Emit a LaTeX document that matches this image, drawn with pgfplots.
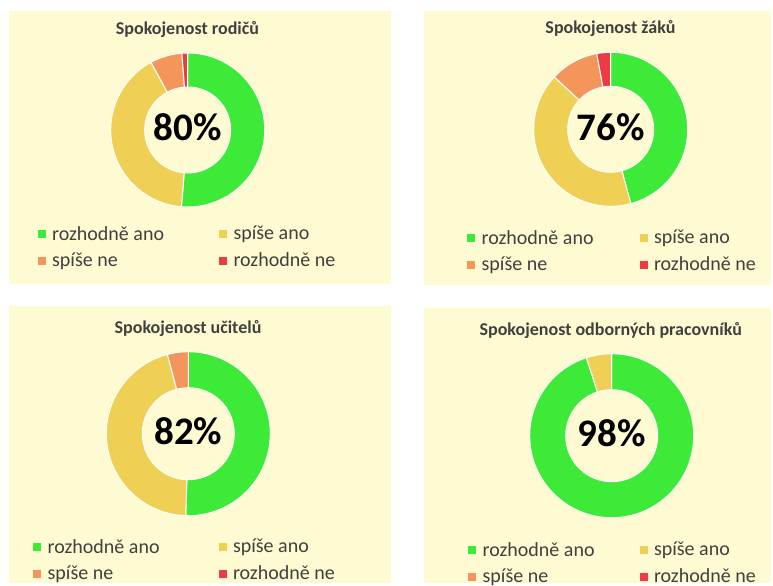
\documentclass[border=0pt]{standalone}
\usepackage{pgfplots}
\pgfplotsset{compat=1.18}
\usepackage{fontspec}
\setmainfont{Carlito}
\definecolor{bg}{HTML}{FEFBD2}
\definecolor{cg}{HTML}{3DEA37}
\definecolor{cy}{HTML}{EFD055}
\definecolor{co}{HTML}{F4955C}
\definecolor{cr}{HTML}{EE3A43}
\definecolor{txt}{HTML}{404040}
\pgfdeclareplotmark{nothing}{}
\tikzset{
  ttl/.style={font=\bfseries\fontsize{18}{20}\selectfont, text=txt, anchor=base},
  pct/.style={font=\bfseries\fontsize{39}{40}\selectfont, text=black, anchor=center}
}
\pgfplotsset{
  panel/.style={scale only axis, hide axis, clip=false, anchor=north west,
    xmin=0, ymin=0, legend columns=2, legend cell align=left},
  sq/.style={legend image code/.code={\fill[#1] (0pt,-3.5pt) rectangle (7pt,3.5pt); \path (12pt,0pt);}},
  ring/.style n args={3}{only marks, mark=nothing, scatter,
    visualization depends on={value \thisrow{a} \as \sa},
    visualization depends on={value \thisrow{b} \as \sb},
    scatter/@pre marker code/.code={%
      \path[fill=#1, draw=white, line width=1pt]
        (90-3.6*\sa:#2) arc[start angle=90-3.6*\sa, end angle=90-3.6*\sb, radius=#2]
        -- (90-3.6*\sb:#3) arc[start angle=90-3.6*\sb, end angle=90-3.6*\sa, radius=#3] -- cycle;},
    scatter/@post marker code/.code={},
    sq=#1},
  lg/.style n args={3}{legend style={at={(axis cs:#1,#2)}, anchor=north west, draw=none, fill=none,
    font=\fontsize{20}{24}\selectfont, text=txt, inner sep=0pt, row sep=7pt,
    /tikz/every even column/.append style={column sep=#3}}}
}
\begin{document}
\begin{tikzpicture}[x=1pt,y=1pt]
\fill[white] (0,0) rectangle (773,-583);
\fill[bg] (9,-11) rectangle (391,-284);
\fill[bg] (424,-11) rectangle (771,-285);
\fill[bg] (9,-306) rectangle (391,-583);
\fill[bg] (424,-308) rectangle (771,-583);

% Panel 1
\begin{axis}[panel, at={(9,-11)}, width=382pt, height=273pt, xmax=382, ymax=273, lg={28.5}{60}{53pt}]
\addplot[ring={cg}{77pt}{43pt}] table[row sep=\\] {x y a b\\ 178.7 154 0 51.3\\};
\addlegendentry{rozhodně ano}
\addplot[ring={cy}{77pt}{43pt}] table[row sep=\\] {x y a b\\ 178.7 154 51.3 92.1\\};
\addlegendentry{spíše ano}
\addplot[ring={co}{77pt}{43pt}] table[row sep=\\] {x y a b\\ 178.7 154 92.1 98.8\\};
\addlegendentry{spíše ne}
\addplot[ring={cr}{77pt}{43pt}] table[row sep=\\] {x y a b\\ 178.7 154 98.8 100\\};
\addlegendentry{rozhodně ne}
\node[ttl] at (axis cs:178.5,249) {Spokojenost rodičů};
\node[pct] at (axis cs:178.7,156.5) {80\%};
\end{axis}

% Panel 2
\begin{axis}[panel, at={(424,-11)}, width=347pt, height=274pt, xmax=347, ymax=274, lg={43}{57}{44pt}]
\addplot[ring={cg}{77pt}{43pt}] table[row sep=\\] {x y a b\\ 186.7 155.7 0 45.8\\};
\addlegendentry{rozhodně ano}
\addplot[ring={cy}{77pt}{43pt}] table[row sep=\\] {x y a b\\ 186.7 155.7 45.8 86.9\\};
\addlegendentry{spíše ano}
\addplot[ring={co}{77pt}{43pt}] table[row sep=\\] {x y a b\\ 186.7 155.7 86.9 97.1\\};
\addlegendentry{spíše ne}
\addplot[ring={cr}{77pt}{43pt}] table[row sep=\\] {x y a b\\ 186.7 155.7 97.1 100\\};
\addlegendentry{rozhodně ne}
\node[ttl] at (axis cs:186.5,251) {Spokojenost žáků};
\node[pct] at (axis cs:186.7,158) {76\%};
\end{axis}

% Panel 3
\begin{axis}[panel, at={(9,-306)}, width=382pt, height=277pt, xmax=382, ymax=277, lg={24}{46}{57pt}]
\addplot[ring={cg}{82pt}{46pt}] table[row sep=\\] {x y a b\\ 179.3 149.3 0 50.5\\};
\addlegendentry{rozhodně ano}
\addplot[ring={cy}{82pt}{46pt}] table[row sep=\\] {x y a b\\ 179.3 149.3 50.5 95.9\\};
\addlegendentry{spíše ano}
\addplot[ring={co}{82pt}{46pt}] table[row sep=\\] {x y a b\\ 179.3 149.3 95.9 100\\};
\addlegendentry{spíše ne}
\addlegendimage{sq=cr}
\addlegendentry{rozhodně ne}
\node[ttl] at (axis cs:179,250) {Spokojenost učitelů};
\node[pct] at (axis cs:179.3,151.5) {82\%};
\end{axis}

% Panel 4
\begin{axis}[panel, at={(424,-308)}, width=347pt, height=275pt, xmax=347, ymax=275, lg={44}{43}{43pt}]
\addplot[ring={cg}{82pt}{46pt}] table[row sep=\\] {x y a b\\ 187.7 147.3 0 95\\};
\addlegendentry{rozhodně ano}
\addplot[ring={cy}{82pt}{46pt}] table[row sep=\\] {x y a b\\ 187.7 147.3 95 100\\};
\addlegendentry{spíše ano}
\addlegendimage{sq=co}
\addlegendentry{spíše ne}
\addlegendimage{sq=cr}
\addlegendentry{rozhodně ne}
\node[ttl] at (axis cs:186.8,248) {Spokojenost odborných pracovníků};
\node[pct] at (axis cs:187.7,149.5) {98\%};
\end{axis}
\end{tikzpicture}
\end{document}
